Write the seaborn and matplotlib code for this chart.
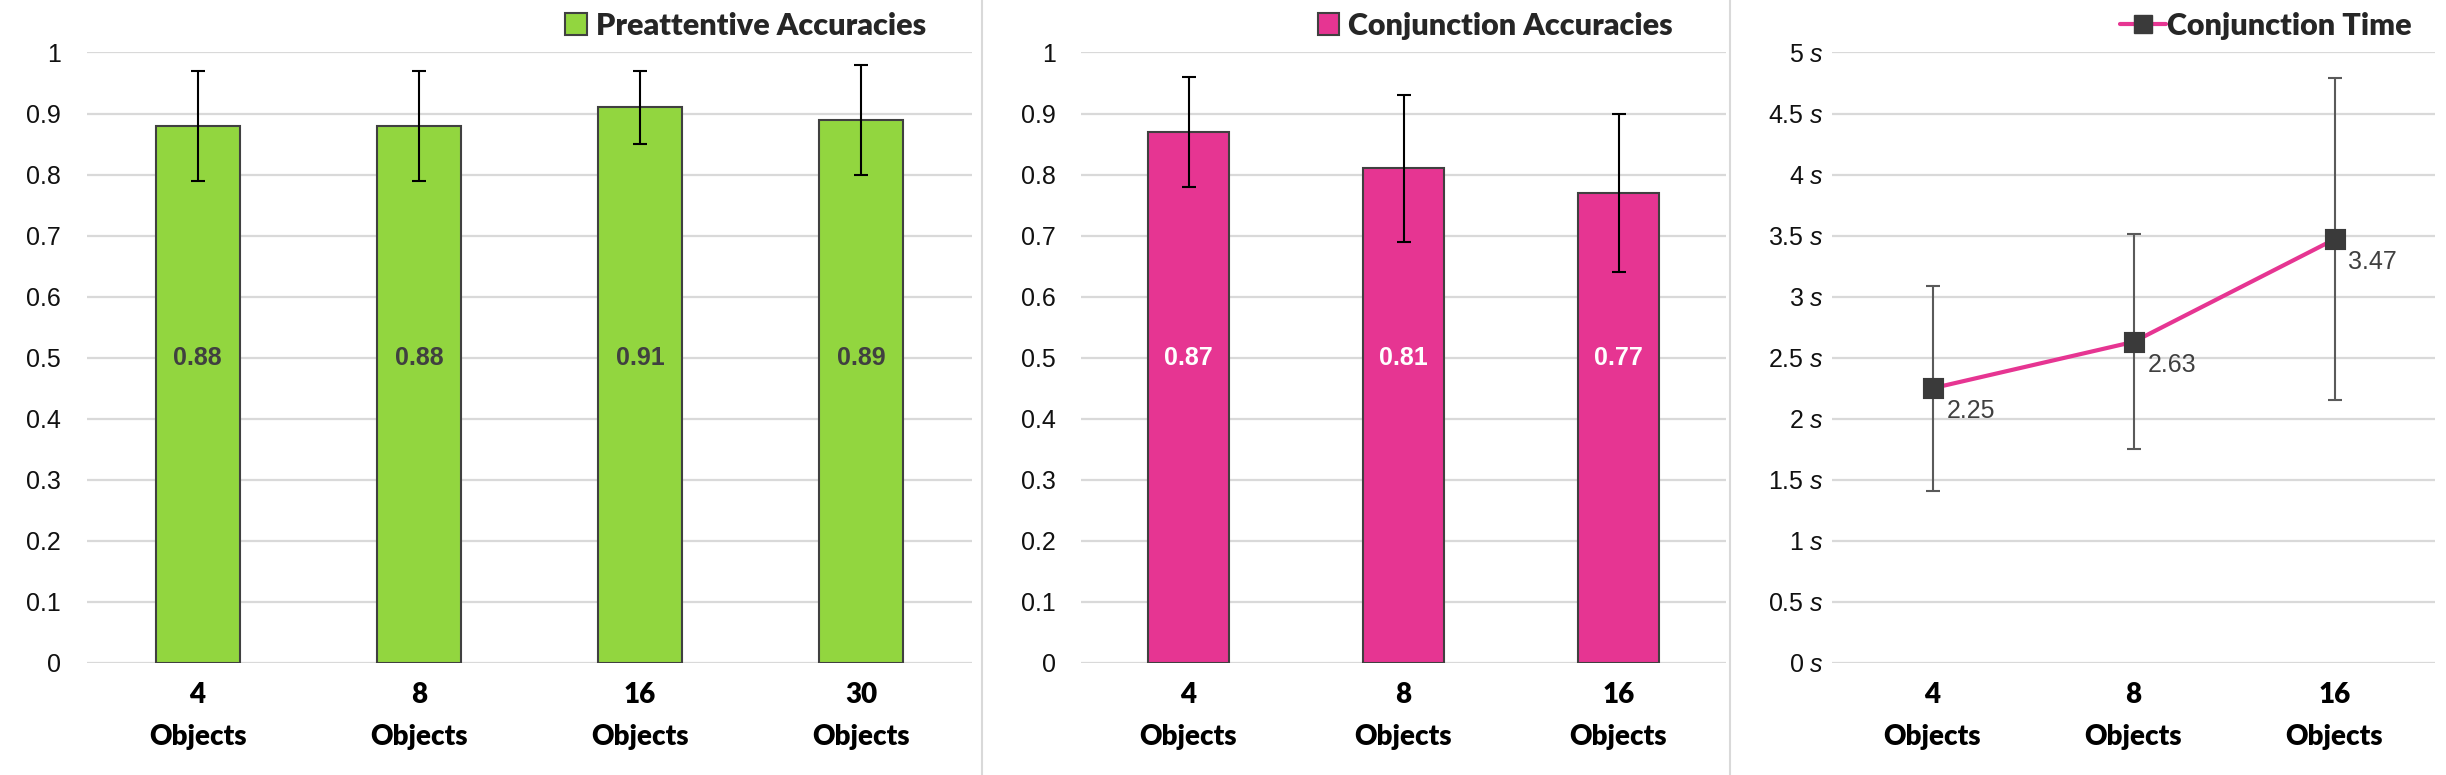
import matplotlib
matplotlib.use("Agg")
import matplotlib.pyplot as plt
from matplotlib.patches import Patch
from matplotlib.lines import Line2D
import seaborn as sns

# ==========================================
# DATA
# ==========================================

pre_objects = [4, 8, 16, 30]
pre_acc = [0.88, 0.88, 0.91, 0.89]
pre_err = [0.09, 0.09, 0.06, 0.09]

conj_objects = [4, 8, 16]
conj_acc = [0.87, 0.81, 0.77]
conj_err = [0.09, 0.12, 0.13]

time_objects = [4, 8, 16]
conj_time = [2.25, 2.63, 3.47]
time_err = [0.84, 0.88, 1.32]

acc_ticks = [0, 0.1, 0.2, 0.3, 0.4, 0.5, 0.6, 0.7, 0.8, 0.9, 1]
time_ticks = [0, 0.5, 1, 1.5, 2, 2.5, 3, 3.5, 4, 4.5, 5]

GREEN = "#92d63f"
PINK = "#e63592"
EDGE = "#404040"
GRID = "#d9d9d9"
MARKER = "#3a3a3a"

# ==========================================
# STYLE
# ==========================================

sns.set_style("white")
plt.rcParams["font.family"] = ["Liberation Sans", "DejaVu Sans"]
plt.rcParams["mathtext.fontset"] = "custom"
plt.rcParams["mathtext.rm"] = "Liberation Sans"
plt.rcParams["mathtext.it"] = "Liberation Sans:italic"

LABEL_FONT = ["Lato", "DejaVu Sans"]
LABEL_WEIGHT = "heavy"

fig = plt.figure(figsize=(24.46, 7.75), dpi=100)

W, H = 2446, 775


def make_axes(x0, x1, top=52, bottom=663):
    return fig.add_axes([x0 / W, (H - bottom) / H, (x1 - x0) / W, (bottom - top) / H])


def style_axes(ax, ticks, labels, ypad):
    ax.set_ylim(ticks[0], ticks[-1] * 1.0008)
    ax.set_yticks(ticks)
    ax.set_yticklabels(labels, fontsize=18, color="#111111")
    ax.yaxis.grid(True, color=GRID, linewidth=1.6)
    ax.xaxis.grid(False)
    ax.set_axisbelow(True)
    for s in ax.spines.values():
        s.set_visible(False)
    ax.tick_params(axis="y", length=0, pad=ypad)
    ax.tick_params(axis="x", length=0, pad=14)
    ax.set_xlabel("")
    ax.set_ylabel("")


def object_labels(ax, counts):
    ax.set_xticks(range(len(counts)))
    ax.set_xticklabels([f"{c}\nObjects" for c in counts], fontfamily=LABEL_FONT,
                       fontweight=LABEL_WEIGHT, fontsize=20, linespacing=1.75, color="black")


acc_labels = [f"{t:g}" for t in acc_ticks]

# ==========================================
# PANEL 1 - PREATTENTIVE ACCURACIES
# ==========================================

ax1 = make_axes(87, 972)
sns.barplot(x=[str(c) for c in pre_objects], y=pre_acc, color=GREEN, width=0.38,
            edgecolor=EDGE, linewidth=1.5, saturation=1, errorbar=None, ax=ax1)
ax1.errorbar(range(len(pre_acc)), pre_acc, yerr=pre_err, fmt="none",
             ecolor="black", elinewidth=1.5, capsize=5, capthick=1.5)
for i, v in enumerate(pre_acc):
    ax1.text(i, 0.5, f"{v:.2f}", ha="center", va="center", fontsize=18,
             fontweight="bold", color="#404040")
style_axes(ax1, acc_ticks, acc_labels, 19)
object_labels(ax1, pre_objects)
ax1.set_xlim(-0.5, len(pre_acc) - 0.5)
ax1.legend(handles=[Patch(facecolor=GREEN, edgecolor=EDGE, linewidth=1.5)],
           labels=["Preattentive Accuracies"], loc="center right",
           bbox_to_anchor=(0.948, 1.043), frameon=False, borderpad=0, borderaxespad=0,
           handlelength=0.7, handleheight=0.7, handletextpad=0.3,
           prop={"family": LABEL_FONT, "weight": LABEL_WEIGHT, "size": 22})

# ==========================================
# PANEL 2 - CONJUNCTION ACCURACIES
# ==========================================

ax2 = make_axes(1081, 1726)
sns.barplot(x=[str(c) for c in conj_objects], y=conj_acc, color=PINK, width=0.38,
            edgecolor=EDGE, linewidth=1.5, saturation=1, errorbar=None, ax=ax2)
ax2.errorbar(range(len(conj_acc)), conj_acc, yerr=conj_err, fmt="none",
             ecolor="black", elinewidth=1.5, capsize=5, capthick=1.5)
for i, v in enumerate(conj_acc):
    ax2.text(i, 0.5, f"{v:.2f}", ha="center", va="center", fontsize=18,
             fontweight="bold", color="white")
style_axes(ax2, acc_ticks, acc_labels, 18)
object_labels(ax2, conj_objects)
ax2.set_xlim(-0.5, len(conj_acc) - 0.5)
ax2.legend(handles=[Patch(facecolor=PINK, edgecolor=EDGE, linewidth=1.5)],
           labels=["Conjunction Accuracies"], loc="center right",
           bbox_to_anchor=(0.918, 1.043), frameon=False, borderpad=0, borderaxespad=0,
           handlelength=0.7, handleheight=0.7, handletextpad=0.3,
           prop={"family": LABEL_FONT, "weight": LABEL_WEIGHT, "size": 22})

# ==========================================
# PANEL 3 - CONJUNCTION TIME
# ==========================================

ax3 = make_axes(1832, 2435)
sns.pointplot(x=[str(c) for c in time_objects], y=conj_time, color=PINK, markers="s",
              errorbar=None, linewidth=3, markersize=13, ax=ax3)
for ln in ax3.lines:
    ln.set_markerfacecolor(MARKER)
    ln.set_markeredgecolor(MARKER)
    ln.set_zorder(4)
ax3.errorbar(range(len(conj_time)), conj_time, yerr=time_err, fmt="none",
             ecolor="#5a5a5a", elinewidth=1.5, capsize=5, capthick=1.5, zorder=3)
for i, v in enumerate(conj_time):
    ax3.annotate(f"{v:.2f}", (i, v), xytext=(10, -8), textcoords="offset points",
                 ha="left", va="top", fontsize=18, color="#404040")
style_axes(ax3, time_ticks, [f"{t:g} $\\mathit{{s}}$" for t in time_ticks], 6)
object_labels(ax3, time_objects)
ax3.set_xlim(-0.5, len(conj_time) - 0.5)
ax3.legend(handles=[Line2D([], [], color=PINK, linewidth=3, marker="s", markersize=13,
                           markerfacecolor=MARKER, markeredgecolor=MARKER)],
           labels=["Conjunction Time"], loc="center right",
           bbox_to_anchor=(0.962, 1.043), frameon=False, borderpad=0, borderaxespad=0,
           handlelength=1.5, handletextpad=0.05,
           prop={"family": LABEL_FONT, "weight": LABEL_WEIGHT, "size": 22})

# ==========================================
# PANEL DIVIDERS
# ==========================================

for xpix in [982, 1730]:
    fig.add_artist(Line2D([xpix / W, xpix / W], [0, 1], color=GRID, linewidth=1.5))

fig.savefig("out.png", dpi=100)
